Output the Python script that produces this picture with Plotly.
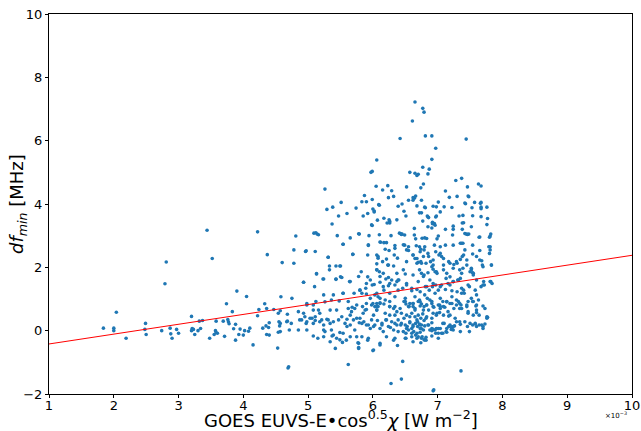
import plotly.graph_objects as go

# ---- data (x in units of 1e-3 W m^-2, y in MHz) ----
left_pts = [
    (1.84, 0.08), (2.0, 0.08), (2.0, 0.0), (2.04, 0.58), (2.19, -0.24), (2.49, 0.23), (2.48, 0.04),
    (2.5, -0.12), (2.74, 0.0), (2.81, 2.17), (2.79, 1.48), (2.87, 0.08), (2.88, -0.1), (2.9, -0.24),
    (2.97, 0.04), (3.0, -0.08), (3.2, 0.45), (3.21, 0.07), (3.23, 0.04), (3.2, 0.0), (3.25, -0.12),
    (3.3, 0.0), (3.32, 0.3), (3.34, 0.07), (3.37, 0.32), (3.44, 3.17), (3.48, -0.24), (3.52, 2.28),
    (3.55, -0.12), (3.57, 0.0), (3.58, 0.3), (3.58, -0.06), (3.6, -0.08), (3.71, -0.18), (3.69, 0.3),
    (3.74, 0.85), (3.76, 0.35), (3.78, 0.22), (3.77, 0.28), (3.83, 0.6), (3.85, 0.06), (3.88, 0.2),
    (3.88, -0.3), (3.9, 1.25), (3.93, -0.12), (3.95, 0.05), (4.0, -0.14), (4.02, 0.0), (4.05, 1.08),
    (4.08, -0.02), (4.1, 0.08), (4.15, -0.45), (4.22, 3.12), (4.22, 0.47), (4.24, 0.67), (4.3, 0.08),
    (4.33, 0.85), (4.35, 0.15), (4.37, 2.4), (4.36, 0.7), (4.36, -0.12), (4.4, -0.14), (4.39, 0.1),
    (4.4, 0.25), (4.47, 0.67), (4.53, -0.55), (4.54, -0.05), (4.55, 0.28), (4.56, 0.15), (4.58, 1.07),
    (4.6, 2.15), (4.54, 0.55), (4.68, 0.52), (4.68, 0.3), (4.69, -1.18),
]

upper_pts = [
    (6.65, 7.22), (6.77, 7.02), (6.79, 6.9), (6.61, 6.62), (6.42, 6.07), (6.81, 6.15), (6.91, 6.15),
    (7.44, 6.05), (6.97, 5.76), (6.06, 5.39), (5.97, 5.0), (5.99, 5.03), (6.91, 5.41), (6.57, 5.0),
    (6.65, 4.97), (6.7, 4.94), (6.68, 4.9), (6.77, 5.16), (6.87, 5.1), (6.85, 4.95), (6.78, 4.63),
    (6.74, 4.51), (7.37, 4.81), (7.28, 4.74), (7.63, 4.63), (7.67, 4.57), (7.46, 4.54), (6.52, 4.54),
    (6.05, 4.56), (6.15, 4.44), (6.23, 4.58), (6.29, 4.42), (5.87, 4.27), (6.32, 4.24), (6.24, 4.2),
    (5.83, 4.07), (5.9, 4.07), (5.99, 4.14), (6.09, 3.98), (6.1, 3.96), (6.02, 3.78), (6.02, 3.75),
    (5.74, 3.87), (5.38, 3.9), (5.51, 4.05), (5.29, 3.83), (5.6, 3.7), (5.47, 3.62), (5.37, 3.37),
    (5.85, 3.62), (5.92, 3.7), (6.0, 3.84), (6.07, 3.49), (5.98, 3.34), (5.99, 3.32), (6.17, 3.55),
    (6.25, 3.5), (6.26, 3.45), (6.26, 3.4), (6.22, 3.4), (6.37, 3.5), (6.39, 3.93), (6.45, 4.0),
    (6.48, 3.77), (6.51, 3.62), (6.55, 4.12), (6.62, 4.12), (6.64, 4.18), (6.66, 4.25), (6.62, 4.2),
    (6.64, 3.23), (6.68, 3.94), (6.72, 3.72), (6.75, 3.72), (6.75, 4.12), (6.8, 3.9), (6.81, 3.88),
    (6.84, 3.62), (6.85, 3.59), (6.86, 3.57), (6.77, 3.46), (6.85, 3.28), (6.92, 3.42), (6.92, 3.38),
    (6.95, 3.38), (6.97, 3.59), (6.98, 3.62), (6.93, 3.93), (6.98, 3.91), (7.01, 4.06), (7.04, 3.75),
    (7.1, 3.91), (7.12, 4.41), (7.18, 4.21), (7.22, 3.89), (7.3, 4.24), (7.33, 3.62), (7.39, 3.64),
    (7.43, 4.01), (7.42, 4.03), (7.47, 4.25), (7.48, 4.23), (7.53, 3.88), (7.54, 3.63), (7.57, 4.05),
    (7.52, 3.28), (7.38, 3.4), (7.4, 3.41), (7.38, 3.2), (7.24, 3.3), (7.24, 3.2), (7.12, 3.2),
    (7.01, 2.99), (6.91, 3.24), (6.96, 3.33), (7.66, 4.02), (7.67, 4.05), (7.67, 3.9), (7.67, 3.85),
    (7.67, 3.6), (7.76, 3.9), (7.77, 3.54), (7.76, 3.35), (7.65, 2.96), (7.81, 2.99), (7.82, 3.05),
    (7.42, 3.07), (7.44, 3.05), (7.46, 3.04), (7.23, 3.02), (6.8, 2.93), (6.76, 2.92), (6.66, 2.9),
    (6.45, 3.05), (6.44, 3.04), (6.41, 3.08), (6.43, 3.06), (6.28, 3.0), (5.94, 3.0), (5.78, 3.06),
    (5.26, 4.47), (4.81, 2.99), (5.09, 3.08), (5.12, 3.09), (5.14, 3.05), (5.16, 3.03), (5.45, 3.0),
    (5.65, 2.93),
]

mid_pts = [
    (5.79, 3.05), (6.10, 3.03), (6.49, 3.02), (6.64, 3.02), (6.83, 2.91), (6.99, 2.90), (7.48, 3.05),
    (7.64, 2.95), (7.80, 2.95),
    (5.54, 2.73), (5.93, 2.69), (6.11, 2.80), (6.17, 2.78), (6.34, 2.69), (6.19, 2.57), (6.33, 2.39),
    (6.49, 2.70), (6.52, 2.55), (6.55, 2.53), (6.67, 2.68), (6.72, 2.65), (6.74, 2.57), (6.79, 2.55),
    (6.95, 2.70), (7.04, 2.65), (7.12, 2.70), (7.24, 2.70), (7.35, 2.76), (7.39, 2.76), (7.42, 2.55),
    (7.54, 2.70), (7.65, 2.53), (7.79, 2.65), (7.81, 2.55), (4.78, 2.55), (4.96, 2.50), (5.11, 2.50),
    (4.78, 2.13), (5.31, 2.32), (5.33, 2.04), (5.50, 2.04), (5.69, 2.41), (5.92, 2.39), (6.06, 2.39),
    (6.08, 2.29), (6.15, 2.18), (6.21, 2.26), (6.23, 2.07), (6.38, 2.29), (6.52, 2.18), (6.62, 2.39),
    (6.65, 2.28), (6.68, 2.13), (6.70, 2.16), (6.74, 2.18), (6.78, 2.34), (6.82, 2.13), (6.85, 2.44),
    (6.89, 2.18), (6.93, 2.07), (6.97, 2.49), (7.02, 2.39), (7.06, 2.34), (7.09, 2.28), (7.17, 2.18),
    (7.25, 2.09), (7.30, 2.13), (7.35, 2.25), (7.38, 2.34), (7.45, 2.23), (7.54, 2.42), (7.60, 2.34),
    (7.68, 2.21), (7.80, 2.44), (7.83, 2.07), (7.69, 2.07),
    (5.13, 1.80), (5.23, 1.63), (5.43, 1.63), (5.50, 1.70), (5.64, 1.55), (4.93, 1.53), (5.82, 1.86),
    (5.92, 1.70), (6.06, 1.92), (6.10, 1.86), (6.16, 1.81), (6.20, 1.63), (6.29, 1.60), (6.37, 1.55),
    (6.40, 1.60), (6.47, 1.92), (6.50, 1.79), (6.62, 1.76), (6.72, 1.92), (6.75, 1.81), (6.79, 1.76),
    (6.85, 1.83), (6.88, 1.60), (6.93, 1.94), (6.96, 1.86), (6.99, 1.81), (7.09, 1.92), (7.13, 1.65),
    (7.19, 1.70), (7.24, 1.55), (7.31, 1.60), (7.35, 1.65), (7.37, 1.81), (7.39, 1.97), (7.52, 1.97),
    (7.54, 1.83), (7.55, 1.76), (7.60, 1.60), (7.71, 1.55), (7.82, 1.55), (7.84, 1.49),
    (4.75, 1.02), (5.10, 1.39), (5.12, 0.92), (5.24, 1.13), (5.39, 1.13), (5.54, 1.18), (5.71, 1.18),
    (5.80, 1.28), (5.89, 1.34), (5.99, 1.44), (6.06, 1.18), (6.08, 1.07), (6.17, 1.28), (6.24, 1.42),
    (6.39, 1.28), (6.46, 1.34), (6.52, 1.44), (6.60, 1.26), (6.68, 1.30), (6.73, 1.23), (6.81, 1.39),
    (6.87, 1.28), (6.92, 1.39), (6.97, 1.44), (7.04, 1.39), (7.12, 1.30), (7.19, 1.44), (7.22, 1.26),
    (7.30, 1.23), (7.37, 1.34), (7.41, 1.18), (7.49, 1.39), (7.60, 1.13), (7.67, 1.39), (7.72, 1.44),
    (4.57, 0.63), (4.85, 0.60), (4.93, 0.55), (5.08, 0.65), (5.34, 0.65), (5.48, 0.94), (5.62, 0.92),
    (5.68, 0.74), (5.75, 0.81), (5.84, 0.76), (5.90, 0.67), (6.00, 0.86), (6.03, 0.76), (6.06, 0.65),
    (6.11, 0.88), (6.17, 0.84), (6.26, 0.92), (6.34, 0.76), (6.42, 0.70), (6.48, 0.92), (6.51, 0.84),
    (6.56, 0.76), (6.62, 0.86), (6.65, 0.65), (6.72, 0.97), (6.75, 0.84), (6.79, 0.76), (6.84, 1.02),
    (6.86, 0.65), (6.91, 0.86), (6.94, 0.74), (6.99, 0.55), (7.03, 0.81), (7.08, 0.92), (7.11, 0.74),
    (7.17, 0.46), (7.19, 0.86), (7.25, 0.70), (7.32, 0.92), (7.36, 0.81), (7.45, 0.76), (7.47, 0.60),
    (7.54, 0.92), (7.60, 0.65), (7.64, 0.49), (7.73, 0.70), (7.76, 0.44),
    (4.57, 0.23), (4.67, 0.28), (4.74, 0.23), (4.87, 0.34), (4.97, 0.23), (5.06, 0.39), (5.11, 0.32),
    (5.21, 0.34), (5.29, 0.36), (5.39, 0.28), (5.47, 0.34), (5.60, 0.36), (5.65, 0.18), (5.75, 0.39),
    (5.79, 0.25), (5.86, 0.28), (5.93, 0.18), (6.01, 0.13), (6.07, 0.32), (6.14, 0.18), (6.20, 0.34),
    (6.27, 0.10), (6.34, 0.23), (6.39, 0.34), (6.43, 0.18), (6.52, 0.07), (6.57, 0.28), (6.62, 0.13),
    (6.69, 0.28), (6.73, 0.18), (6.75, 0.06), (6.82, 0.39), (6.85, 0.18), (6.91, 0.25), (6.96, 0.02),
    (7.01, 0.07), (7.10, 0.23), (7.17, 0.13), (7.21, 0.04), (7.26, 0.15), (7.35, 0.20), (7.42, 0.28),
    (7.46, 0.13), (7.58, 0.21), (7.64, 0.18), (7.70, 0.13), (7.76, 0.39),
    (4.57, -0.03), (4.71, 0.02), (4.85, 0.02), (4.98, 0.02), (5.08, -0.17), (5.15, -0.24), (5.24, 0.02),
    (5.34, -0.35), (5.37, -0.17), (5.49, -0.06), (5.53, -0.37), (5.59, -0.30), (5.65, -0.19),
    (5.77, -0.38), (5.78, -0.53), (5.83, -0.19), (5.92, -0.30), (6.00, -0.63), (6.11, -0.45),
    (6.21, -0.19), (6.32, -0.30), (6.38, -0.47), (6.50, -0.24), (6.60, -0.19), (6.68, -0.24),
    (6.76, -0.19), (6.82, -0.30), (6.91, -0.17), (6.97, -0.08), (7.06, -0.08), (7.13, -0.03),
    (7.24, 0.02), (7.35, -0.03),
]

dense_pts = [
    (6.50, 0.92), (6.55, 0.76), (6.62, 0.86), (6.65, 0.70), (6.70, 0.92), (6.73, 0.78), (6.78, 0.65),
    (6.83, 0.81), (6.91, 0.92), (6.93, 0.76), (7.01, 0.81), (7.04, 0.70), (7.09, 0.76), (7.14, 0.92),
    (7.22, 0.86), (7.29, 0.81), (7.34, 0.86), (7.37, 0.70), (7.47, 0.92), (7.55, 0.92), (7.59, 0.78),
    (7.70, 0.78), (6.44, 0.55), (6.48, 0.39), (6.52, 0.49), (6.57, 0.44), (6.60, 0.55), (6.65, 0.44),
    (6.68, 0.34), (6.70, 0.49), (6.74, 0.39), (6.77, 0.53), (6.79, 0.32), (6.83, 0.44), (6.91, 0.39),
    (6.93, 0.55), (6.98, 0.49), (7.03, 0.57), (7.09, 0.49), (7.16, 0.60), (7.19, 0.49), (7.27, 0.39),
    (7.29, 0.28), (7.34, 0.28), (7.47, 0.55), (7.55, 0.49), (7.60, 0.57), (7.77, 0.42),
    (6.44, 0.23), (6.50, 0.18), (6.53, 0.13), (6.57, 0.25), (6.60, 0.07), (6.62, 0.18), (6.66, 0.23),
    (6.69, 0.13), (6.72, 0.21), (6.73, 0.07), (6.75, 0.18), (6.78, 0.02), (6.80, 0.15), (6.86, 0.18),
    (6.88, 0.02), (6.91, 0.07), (6.98, 0.07), (7.04, 0.07), (7.08, 0.23), (7.14, 0.07), (7.19, 0.18),
    (7.22, 0.07), (7.24, 0.13), (7.50, 0.23), (7.54, 0.18), (7.58, 0.23), (7.60, 0.13), (7.68, 0.18),
    (7.73, 0.21), (6.47, -0.03), (6.51, -0.08), (6.55, 0.02), (6.60, -0.08), (6.63, -0.03),
    (6.66, -0.14), (6.68, -0.08), (6.70, -0.19), (6.73, -0.05), (6.75, -0.24), (6.79, -0.29),
    (6.82, -0.21), (6.91, 0.0), (6.93, 0.04), (7.01, -0.08), (7.08, -0.08), (7.14, -0.05),
    (7.20, 0.13), (7.49, -0.03), (7.70, 0.07), (6.51, -0.24), (6.62, -0.35), (6.74, -0.38),
    (6.80, -0.29), (7.01, -0.24),
]

mid2_pts = [
    (4.98, 0.86), (5.08, 0.81), (5.16, 0.65), (5.11, 0.44), (5.03, 0.39), (4.95, 0.44), (4.90, 0.34),
    (4.98, 0.28), (5.08, 0.23), (5.18, 0.28), (5.24, 0.18), (5.31, 0.34), (5.34, 0.23), (5.26, -0.03),
    (5.36, 0.02), (5.39, -0.14), (5.44, -0.24), (5.49, -0.29), (5.54, -0.08), (5.60, 0.13),
    (5.65, 0.49), (5.67, 0.60), (5.70, 0.34), (5.72, 0.02), (5.75, -0.19), (5.78, -0.40),
    (5.78, -0.56), (5.80, 0.39), (5.83, 0.23), (5.85, 0.55), (5.88, 0.65), (5.90, 0.18),
    (5.93, -0.24), (5.96, 0.07), (5.98, 0.34), (6.01, 0.49), (6.01, -0.61), (6.03, 0.18),
    (6.06, 0.65), (6.08, 0.76), (6.11, 0.07), (6.14, 0.23), (6.16, -0.03), (6.11, -0.40),
    (6.19, 0.55), (6.21, 0.34), (6.24, 0.13), (6.26, 0.76), (6.29, 0.28), (6.32, 0.02),
    (6.34, 0.49), (6.37, 0.18), (6.39, -0.03), (5.42, -0.56), (5.44, 0.65), (5.52, 0.44),
    (5.18, 0.55), (5.24, -0.19), (5.57, 0.23), (6.11, 0.86), (6.26, 0.49), (6.34, -0.24),
    (5.90, 0.86), (6.06, 0.86), (6.37, 0.60),
]

mid3_pts = [
    (6.47, 2.71), (6.55, 2.65), (6.62, 2.39), (6.68, 2.28), (6.73, 2.49), (6.75, 2.13), (6.80, 2.65),
    (6.86, 2.34), (6.91, 2.02), (6.93, 2.23), (6.98, 1.86), (7.04, 2.44), (7.09, 2.07), (7.14, 1.81),
    (7.19, 2.13), (7.24, 1.97), (7.29, 2.18), (7.34, 1.92), (7.37, 2.76), (7.40, 2.39), (7.45, 2.07),
    (7.50, 1.86), (7.52, 1.92), (7.55, 1.81), (7.65, 2.23), (7.70, 2.02), (7.81, 2.65), (7.83, 2.07),
    (6.52, 1.49), (6.60, 1.34), (6.70, 1.55), (6.78, 1.71), (6.83, 1.39), (6.93, 1.49), (7.01, 1.28),
    (7.06, 1.44), (7.16, 1.49), (7.24, 1.55), (7.32, 1.60), (7.40, 1.28), (7.47, 1.44), (7.58, 1.28),
    (7.70, 1.44), (7.81, 1.55), (6.50, 1.02), (6.57, 0.86), (6.65, 1.07), (6.73, 0.91), (6.80, 1.13),
    (6.88, 0.97), (6.96, 1.18), (7.04, 1.02), (7.14, 0.91), (7.22, 1.07), (7.29, 0.97), (7.37, 1.18),
    (7.45, 0.81), (7.52, 1.02), (7.63, 0.97), (6.62, 0.76), (6.83, 0.81), (7.04, 0.76), (7.34, 0.70),
    (7.60, 0.81),
]

mid4_pts = [
    (4.97, 2.52), (5.54, 2.73), (5.93, 2.71), (6.12, 2.79), (6.21, 2.78), (6.34, 2.60), (5.31, 2.32),
    (5.69, 2.41), (6.08, 2.34), (6.25, 2.53), (5.43, 2.04), (5.49, 2.04), (5.13, 1.79), (5.33, 1.92),
    (5.52, 1.68), (5.43, 1.62), (5.24, 1.63), (5.65, 1.55), (4.93, 1.53), (5.78, 1.71), (6.06, 2.11),
    (6.24, 2.07), (6.32, 2.04), (6.06, 1.92), (6.11, 1.71), (6.24, 1.68), (6.37, 1.81), (5.90, 1.49),
    (5.96, 1.60), (6.02, 1.46), (6.11, 1.53), (6.16, 1.39), (6.26, 1.49), (6.34, 1.44), (6.39, 1.60),
    (5.80, 1.28), (5.83, 1.18), (5.90, 1.16), (5.54, 1.18), (5.96, 1.02), (6.03, 1.13), (6.11, 1.02),
    (6.19, 0.97), (6.26, 1.18), (6.34, 1.07), (5.36, 0.97), (5.26, 0.91), (4.98, 0.81), (5.62, 0.70),
    (5.72, 0.70), (5.98, 0.81), (6.06, 0.76), (6.26, 0.76), (6.32, 0.70),
]

bottom_pts = [
    (4.70, -1.14), (5.62, -1.07), (6.46, -0.97), (6.44, -1.53), (6.28, -1.67), (7.36, -1.27),
    (6.93, -1.90), (6.94, -1.87),
]

# linear fit line endpoints
fit_x = [1.0, 10.0]
fit_y = [-0.42, 2.38]

x_ticks = [1, 2, 3, 4, 5, 6, 7, 8, 9, 10]
y_ticks = [-2, 0, 2, 4, 6, 8, 10]

x_title = "GOES EUVS-E•cos<sup>0.5</sup><i>χ</i> [W m<sup>−2</sup>]"
y_title = "<i>df</i><sub><i>min</i></sub> [MHz]"
x_scale_note = "×10<sup>−3</sup>"

all_pts = left_pts + upper_pts + mid_pts + dense_pts + mid2_pts + mid3_pts + mid4_pts + bottom_pts
xs = [p[0] for p in all_pts]
ys = [p[1] for p in all_pts]

fig = go.Figure()
fig.add_trace(go.Scatter(
    x=xs, y=ys, mode="markers",
    marker=dict(color="#1f77b4", size=3.6, line=dict(width=0)),
    showlegend=False, hoverinfo="skip",
))
fig.add_trace(go.Scatter(
    x=fit_x, y=fit_y, mode="lines",
    line=dict(color="red", width=1),
    showlegend=False, hoverinfo="skip",
))

font_family = "DejaVu Sans"
fig.update_layout(
    width=641, height=431,
    margin=dict(l=49, r=9, t=14, b=37),
    paper_bgcolor="white", plot_bgcolor="white",
    font=dict(family=font_family, color="black", size=13),
    xaxis=dict(
        range=[1, 10], tickmode="array", tickvals=x_ticks,
        ticktext=[str(v) for v in x_ticks],
        showgrid=False, zeroline=False, automargin=False,
        showline=True, linecolor="black", linewidth=1, mirror=True,
        ticks="outside", ticklen=3, tickwidth=1, tickcolor="black",
        tickfont=dict(size=13), ticklabelstandoff=-4,
    ),
    yaxis=dict(
        range=[-2, 10], tickmode="array", tickvals=y_ticks,
        ticktext=[("−" + str(-v)) if v < 0 else str(v) for v in y_ticks],
        showgrid=False, zeroline=False, automargin=False,
        showline=True, linecolor="black", linewidth=1, mirror=True,
        ticks="outside", ticklen=3, tickwidth=1, tickcolor="black",
        tickfont=dict(size=13),
    ),
    annotations=[
        dict(text=x_title, x=0.5, y=0, xref="paper", yref="paper",
             xanchor="center", yanchor="middle", yshift=-25,
             showarrow=False, font=dict(size=18, color="black")),
        dict(text=y_title, x=0, y=0.5, xref="paper", yref="paper",
             xanchor="center", yanchor="middle", xshift=-31, textangle=-90,
             showarrow=False, font=dict(size=18, color="black")),
        dict(text=x_scale_note, x=1.0, y=0, xref="paper", yref="paper",
             xanchor="center", yanchor="middle", yshift=-21, xshift=-16,
             showarrow=False, font=dict(size=7, color="black")),
    ],
)

fig.write_html("out.html")
